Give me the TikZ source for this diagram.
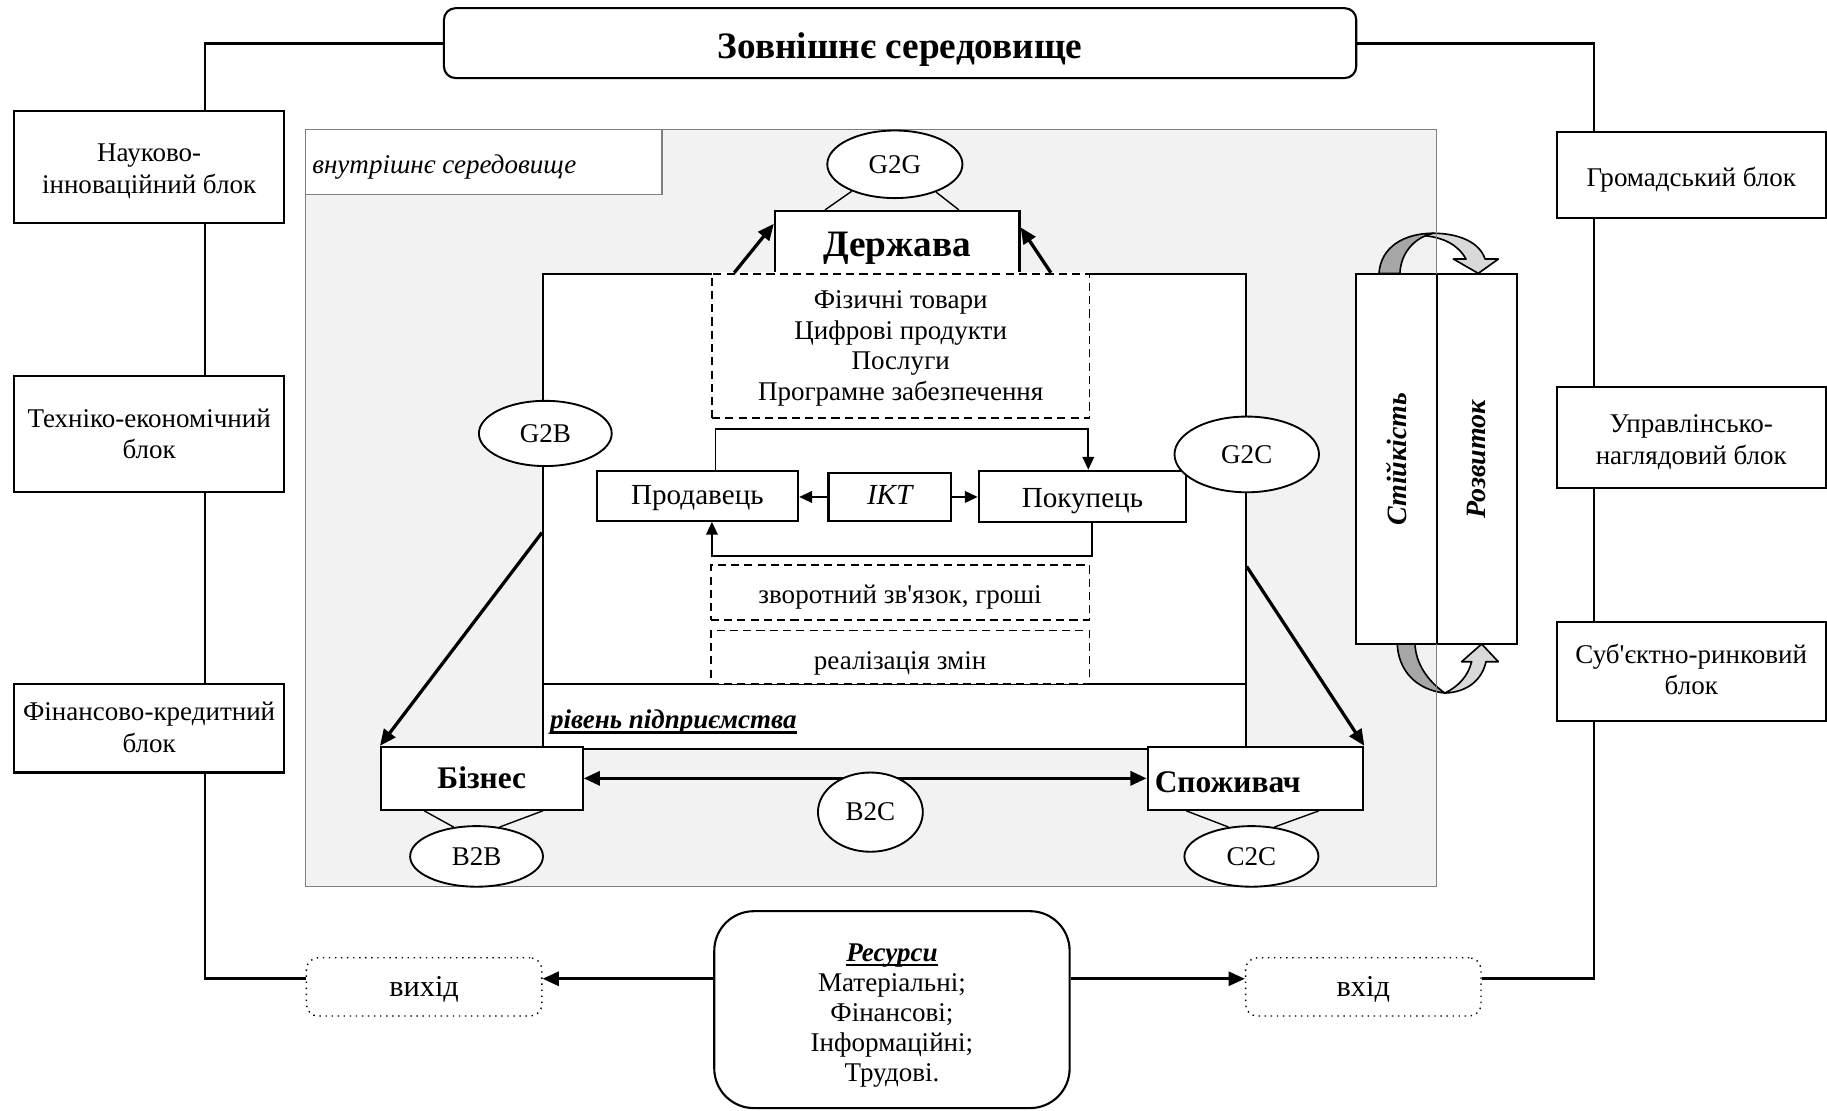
\documentclass[tikz,border=0pt]{standalone}
\usepackage{fontspec}
\setmainfont{Liberation Serif}[Ligatures=TeXOff]
\usetikzlibrary{arrows.meta,shapes.geometric}
\definecolor{envfill}{HTML}{F2F2F2}
\definecolor{envline}{HTML}{7F7F7F}
\definecolor{bandDark}{HTML}{A6A6A6}
\definecolor{bandLight}{HTML}{D9D9D9}
% lowered text block (keeps the natural size of the text for centring)
\newcommand\dn[2]{\raisebox{-#1}[\height][\depth]{\begin{tabular}{@{}c@{}}#2\end{tabular}}}
% heavy underline
\newsavebox\ulbox
\newcommand\thul[1]{\sbox\ulbox{#1}\rlap{\rule[-2pt]{\wd\ulbox}{0.9pt}}\usebox\ulbox}

\begin{document}
\begin{tikzpicture}[x=0.5pt,y=-0.5pt,
  sz/.style 2 args={minimum width=#1*0.5pt, minimum height=#2*0.5pt},
  txt/.style={font=\fontsize{11.6}{13.5}\selectfont},
  blk/.style={draw, line width=0.9pt, fill=white, inner sep=0pt, txt},
  dbox/.style={draw, dash pattern=on 3.5pt off 2.2pt, line width=0.7pt, fill=white,
    inner sep=0pt, font=\fontsize{11.6}{13.15}\selectfont},
  dotbox/.style={draw, dotted, line width=0.6pt, rounded corners=5pt, fill=white,
    inner sep=0pt, font=\fontsize{13}{15}\selectfont},
  ell/.style={ellipse, draw, line width=0.8pt, fill=white, inner sep=0pt, txt},
  frame/.style={line width=1.2pt},
  thinlink/.style={line width=0.7pt},
  tip/.style={-{Triangle[length=5.5pt,width=5pt]}},
  bigarrow/.style={line width=1.4pt, -{Triangle[length=7pt,width=6pt]}},
  band/.style={draw, line width=0.7pt, line join=round},
]
\useasboundingbox (0,0) rectangle (1568,953);

% ---------- external environment ----------
\node[blk, rounded corners=5pt, sz={783}{60},
  font=\bfseries\fontsize{16}{18}\selectfont] (ext) at (772.5,37) {\dn{3pt}{Зовнішнє середовище}};

\node[blk, sz={232}{96}] (sci)  at (128,143)   {\dn{2pt}{Науково-\\інноваційний блок}};
\node[blk, sz={232}{99}] (tech) at (128,372.5) {\dn{1.2pt}{Техніко-економічний\\блок}};
\node[blk, sz={232}{76}] (fin)  at (128,625)   {\dn{0.8pt}{Фінансово-кредитний\\блок}};
\node[blk, sz={231}{74}] (pub)  at (1451.5,150)   {\dn{2.5pt}{Громадський блок}};
\node[blk, sz={231}{87}] (mgmt) at (1451.5,375.5) {\dn{2pt}{Управлінсько-\\наглядовий блок}};
\node[blk, sz={231}{85}] (mkt)  at (1451.5,576.5) {\dn{0.5pt}{Суб'єктно-ринковий\\блок}};

% ---------- resources and flows ----------
\node[blk, rounded corners=17pt, sz={305}{169},
  font=\fontsize{11.6}{12.9}\selectfont] (res) at (765.5,866.5)
  {\dn{2.5pt}{\thul{\textbf{\textit{Ресурси}}}\\Матеріальні;\\Фінансові;\\Інформаційні;\\Трудові.}};
\node[dotbox, sz={202}{50}] (out) at (364,847)  {\dn{1pt}{вихід}};
\node[dotbox, sz={202}{50}] (in)  at (1170,847) {\dn{1pt}{вхід}};

\coordinate (L) at (176,37);
\coordinate (R) at (1368,37);
\coordinate (flowY) at (0,840);

\draw[frame] (ext.west) -- (L) -- (sci.north -| L);
\draw[frame] (sci.south -| L) -- (tech.north -| L);
\draw[frame] (tech.south -| L) -- (fin.north -| L);
\draw[frame] (fin.south -| L) |- (out.west |- flowY);
\draw[frame] (ext.east) -- (R) -- (pub.north -| R);
\draw[frame] (pub.south -| R) -- (mgmt.north -| R);
\draw[frame] (mgmt.south -| R) -- (mkt.north -| R);
\draw[frame] (mkt.south -| R) |- (in.east |- flowY);

\draw[bigarrow, line width=1.3pt] (res.west |- flowY) -- (out.east |- flowY);
\draw[bigarrow, line width=1.3pt] (res.east |- flowY) -- (in.west |- flowY);

% ---------- internal environment ----------
\node[sz={971}{650}, fill=envfill, draw=envline, line width=0.6pt, inner sep=0pt] (inner) at (747.5,436) {};
\node[sz={306}{56}, fill=white, draw=envline, line width=0.6pt, inner sep=0pt] (innerlab) at (415,139) {};
\node[anchor=west, font=\itshape\fontsize{11.6}{13}\selectfont] (innertxt) at (261,143) {внутрішнє середовище};

% enterprise level
\node[sz={603}{408}, draw, line width=0.9pt, fill=white, inner sep=0pt] (ent) at (767.5,439) {};
\coordinate (lvlY) at (0,587);
\draw[line width=0.9pt] (ent.west |- lvlY) -- (ent.east |- lvlY);
\node[anchor=west, font=\bfseries\itshape\fontsize{11.6}{13}\selectfont] (lvl) at (465,620)
  {\thul{рівень підприємства}};

% state
\node[blk, sz={210}{54}, font=\bfseries\fontsize{16}{18}\selectfont] (gov) at (770,208) {\dn{2.5pt}{Держава}};
\node[ell, minimum width=58pt, minimum height=29pt] (g2g) at (768,141) {G2G};
\draw[thinlink, line width=0.6pt] (g2g.212) -- ([xshift=22pt]gov.north west);
\draw[thinlink, line width=0.6pt] (g2g.326) -- ([xshift=-26.5pt]gov.north east);

\draw[white, line width=1.4pt] (611,235) -- (935,235);
\node[dbox, sz={324}{124}] (goods) at (773,297)
  {\dn{1pt}{Фізичні товари\\Цифрові продукти\\Послуги\\Програмне забезпечення}};
\node[dbox, sz={325}{47}] (fb)  at (772.5,508.5) {\dn{2pt}{зворотний зв'язок, гроші}};
\node[dbox, sz={325}{46}] (chg) at (772.5,564)   {\dn{2.5pt}{реалізація змін}};

% seller -- ICT -- buyer
\node[blk, sz={173}{43}, font=\fontsize{12.5}{14}\selectfont] (seller) at (598.5,425.5) {\dn{1pt}{Продавець}};
\node[blk, sz={105}{41}, font=\itshape\fontsize{12.5}{14}\selectfont] (ict) at (763.5,426.5) {\dn{0.5pt}{ІКТ}};
\node[blk, sz={178}{44}, font=\fontsize{12.5}{14}\selectfont] (buyer) at (929,426) {\dn{2pt}{Покупець}};
\draw[thinlink, tip] (ict.west) -- (ict.west -| seller.east);
\draw[thinlink, tip] (ict.east) -- (ict.east -| buyer.west);

\coordinate (loopTL) at (614,368);
\coordinate (loopTR) at (934,368);
\coordinate (loopBR) at (937,477);
\coordinate (loopBL) at (611,477);
\draw[thinlink, tip] (seller.north -| loopTL) -- (loopTL) -- (loopTR) -- (buyer.north -| loopTR);
\draw[thinlink, tip] (buyer.south -| loopBR) -- (loopBR) -- (loopBL) -- (seller.south -| loopBL);

% state arrows
\draw[bigarrow] ([xshift=82.5pt]ent.north west) -- ([yshift=-6pt]gov.north west);
\draw[bigarrow] ([xshift=-84pt]ent.north east) -- ([yshift=-7.5pt]gov.north east);

\node[ell, minimum width=57pt, minimum height=28pt] (g2b) at (468,372) {G2B};
\node[ell, minimum width=62pt, minimum height=32.5pt] (g2c) at (1070,390) {G2C};

% business and consumer
\node[blk, sz={173}{54}, font=\bfseries\fontsize{13.5}{16}\selectfont] (biz) at (413.5,668) {\dn{1pt}{Бізнес}};
\node[blk, sz={185}{54}] (cons) at (1077.5,668) {};
\node[anchor=west, font=\bfseries\fontsize{13.5}{16}\selectfont] (constxt) at (984,671) {Споживач};

\draw[bigarrow] ([yshift=-111.5pt]ent.north west) -- (biz.north west);
\draw[bigarrow] ([yshift=-126pt]ent.north east) -- (cons.north east);
\draw[line width=1.5pt, {Triangle[length=7pt,width=6pt]}-{Triangle[length=7pt,width=6pt]}]
  (biz.east) -- (cons.west);

\node[ell, minimum width=45pt, minimum height=34pt] (b2c) at (747,697) {B2C};
\node[ell, minimum width=57pt, minimum height=26pt] (b2b) at (409,735) {B2B};
\node[ell, minimum width=57.5pt, minimum height=26pt] (c2c) at (1074,735) {C2C};
\draw[thinlink, line width=0.6pt] ([xshift=19pt]biz.south west) -- (b2b.128);
\draw[thinlink, line width=0.6pt] ([xshift=-17.5pt]biz.south east) -- (b2b.52);
\draw[thinlink, line width=0.6pt] ([xshift=17pt]cons.south west) -- (c2c.128);
\draw[thinlink, line width=0.6pt] ([xshift=-19.5pt]cons.south east) -- (c2c.52);

% stability / development
\node[blk, sz={69}{318}] (stab) at (1198.5,394) {};
\node[blk, sz={69}{318}] (dev)  at (1267.5,394) {};
\node[rotate=90, font=\bfseries\itshape\fontsize{12}{14}\selectfont] (stabtxt) at (stab.center) {Стійкість};
\node[rotate=90, font=\bfseries\itshape\fontsize{12}{14}\selectfont] (devtxt) at (dev.center) {Розвиток};

% upper turning arrow
\filldraw[band, fill=bandLight]
  (1223,202.3) .. controls (1226,200.6) and (1228,200.2) .. (1230,200.2)
  .. controls (1252,200.2) and (1270,208) .. (1274.5,222.3)
  -- (1286,222.3) -- (1268.7,234.6) -- (1247.3,222.3) -- (1258.2,222.3)
  .. controls (1252,211) and (1240,204) .. cycle;
\filldraw[band, fill=bandDark]
  (1183.5,234.6) .. controls (1185,212) and (1205,200.2) .. (1230,200.2)
  .. controls (1213,204) and (1202,218) .. (1201.5,234.6) -- cycle;

% lower turning arrow
\filldraw[band, fill=bandDark]
  (1199.2,552.7) .. controls (1200,575) and (1215,592) .. (1240,594.8)
  .. controls (1226,585) and (1215,570) .. (1214.4,552.7) -- cycle;
\filldraw[band, fill=bandLight]
  (1240,594.8) .. controls (1260,594) and (1272,583) .. (1275.3,567.9)
  -- (1285.9,567.9) -- (1271.6,552.7) -- (1254.4,567.9) -- (1263,567.9)
  .. controls (1260,580) and (1252,589) .. cycle;

\draw[envline, line width=0.6pt] (1233,195) -- (1233,235);
\draw[envline, line width=0.6pt] (1233,553) -- (1233,600);
\end{tikzpicture}
\end{document}
